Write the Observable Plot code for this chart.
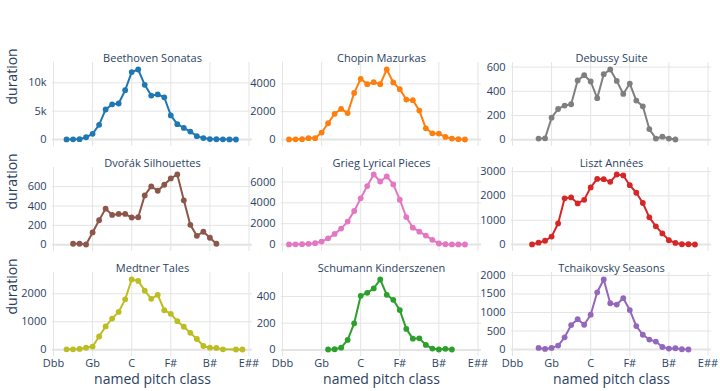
<!DOCTYPE html>
<html><head><meta charset="utf-8">
<script src="https://cdn.jsdelivr.net/npm/d3@7"></script>
<script src="https://cdn.jsdelivr.net/npm/@observablehq/plot@0.6"></script>
<style>
body{margin:0;background:#fff;}
#chart{position:relative;width:720px;height:391px;overflow:hidden;font-family:"Open Sans",sans-serif;background:#fff;}
#chart svg{position:absolute;overflow:visible;}
</style></head><body><div id="chart"></div>
<script>
// Line of fifths
const pitchClasses = ["Dbb","Abb","Ebb","Bbb","Fb","Cb","Gb","Db","Ab","Eb","Bb","F","C","G","D","A","E","B","F#","C#","G#","D#","A#","E#","B#","F##","C##","G##","D##","A##","E##"];
const xTickLabels = ["Dbb","Gb","C","F#","B#","E##"];

const pieceNames = ["Beethoven Sonatas","Chopin Mazurkas","Debussy Suite","Dvořák Silhouettes","Grieg Lyrical Pieces","Liszt Années","Medtner Tales","Schumann Kinderszenen","Tchaikovsky Seasons"];
const pieceColors = ["#1f77b4","#ff7f0e","#7f7f7f","#8c564b","#e377c2","#d62728","#bcbd22","#2ca02c","#9467bd"];

const beethoven = [null,null,20,30,60,400,1000,2600,5300,6200,6350,8700,11900,12350,9650,7750,7950,7450,4250,2700,2050,1400,600,250,80,50,30,10,5,null,null];
const chopin = [null,10,20,30,100,100,500,1170,1850,2200,1900,3350,4360,3980,4120,3980,5030,4100,3620,2870,2830,2080,810,450,430,190,70,25,5,null,null];
const debussy = [null,null,null,null,10,12,182,254,282,293,489,533,481,343,541,580,486,378,464,323,276,88,10,25,10,2,null,null,null,null,null];
const dvorak = [null,null,null,10,10,2,127,253,373,308,318,318,281,284,510,603,558,620,685,726,459,205,92,134,72,10,null,null,null,null,null];
const grieg = [null,10,20,40,70,130,290,600,1020,1530,2200,3220,4430,5610,6720,6050,6530,5770,4300,2640,1620,1240,860,450,100,30,15,10,5,null,null];
const liszt = [null,null,null,10,80,160,330,870,1900,1940,1690,1840,2350,2700,2690,2580,2880,2840,2440,2130,1710,1120,750,460,180,70,15,15,5,null,null];
const medtner = [null,null,10,10,25,70,110,470,830,1110,1350,1800,2510,2460,2110,1820,1960,1410,1280,1020,820,600,380,130,70,60,10,null,5,5,null];
const schumann = [null,null,null,null,null,null,null,3,5,17,75,199,405,427,460,527,412,375,298,157,84,87,37,10,3,8,3,null,null,null,null];
const tchaikovsky = [null,null,null,null,45,18,45,107,330,660,820,670,940,1545,1890,1250,1215,1385,1065,635,400,270,215,70,27,36,9,2,null,null,null];
const pieceValues = [beethoven,chopin,debussy,dvorak,grieg,liszt,medtner,schumann,tchaikovsky];

const yTicks = [
  [0,5000,10000],[0,2000,4000],[0,200,400,600],
  [0,200,400,600],[0,2000,4000,6000],[0,1000,2000,3000],
  [0,1000,2000],[0,200,400],[0,500,1000,1500,2000]
];
const yFormats = ["~s","d","d","d","d","d","d","d","d"];

const yLabel = "duration";
const xLabel = "named pitch class";

// layout
const colLeft = [52, 281, 511];
const rowTop = [62, 167, 272];
const W = 200, H = 84;
const ML = 50, MR = 10, MT = 22, MB = 40;
const GRID = "#e4e4e4";
const TXT = "#2a3f5f";
const xTickIdx = xTickLabels.map(l => pitchClasses.indexOf(l));

const chart = document.getElementById("chart");
pieceNames.forEach((name, k) => {
  const row = Math.floor(k / 3), col = k % 3;
  const values = pieceValues[k];
  const data = pitchClasses.map((pc, i) => ({i, pc, v: values[i]})).filter(d => d.v != null);
  const vmax = d3.max(data, d => d.v), vmin = d3.min(data, d => d.v);
  const pad = 0.1 * (vmax - vmin);
  const fmt = d3.format(yFormats[k]);
  const svg = Plot.plot({
    width: W + ML + MR, height: H + MT + MB,
    marginLeft: ML, marginRight: MR, marginTop: MT, marginBottom: MB,
    style: {background: "transparent", fontFamily: "'Open Sans', sans-serif", fontSize: "11px", color: TXT, overflow: "visible"},
    x: {type: "linear", domain: [-0.153, 30.54], ticks: xTickIdx, tickFormat: i => pitchClasses[i], tickSize: 0, tickPadding: 3, axis: row === 2 ? "bottom" : null, label: null},
    y: {domain: [vmin - pad, vmax + pad], ticks: yTicks[k], tickFormat: fmt, tickSize: 0, tickPadding: 6, label: null},
    marks: [
      Plot.ruleX(xTickIdx, {stroke: GRID, strokeWidth: 1}),
      Plot.ruleY(yTicks[k].filter(t => t !== 0), {stroke: GRID, strokeWidth: 1}),
      Plot.ruleY([0], {stroke: GRID, strokeWidth: 2}),
      Plot.line(data, {x: "i", y: "v", stroke: pieceColors[k], strokeWidth: 2}),
      Plot.dot(data, {x: "i", y: "v", fill: pieceColors[k], r: 2.9}),
      Plot.text([name], {text: d => d, frameAnchor: "top", dy: -8, fontSize: 11, fill: TXT}),
      col === 0 ? Plot.text([yLabel], {text: d => d, frameAnchor: "left", dx: -40, rotate: -90, fontSize: 14, fill: TXT}) : null,
      row === 2 ? Plot.text([xLabel], {text: d => d, frameAnchor: "bottom", dy: 27, fontSize: 14, fill: TXT}) : null
    ]
  });
  svg.style.left = (colLeft[col] - ML) + "px";
  svg.style.top = (rowTop[row] - MT) + "px";
  chart.appendChild(svg);
});
</script></body></html>
